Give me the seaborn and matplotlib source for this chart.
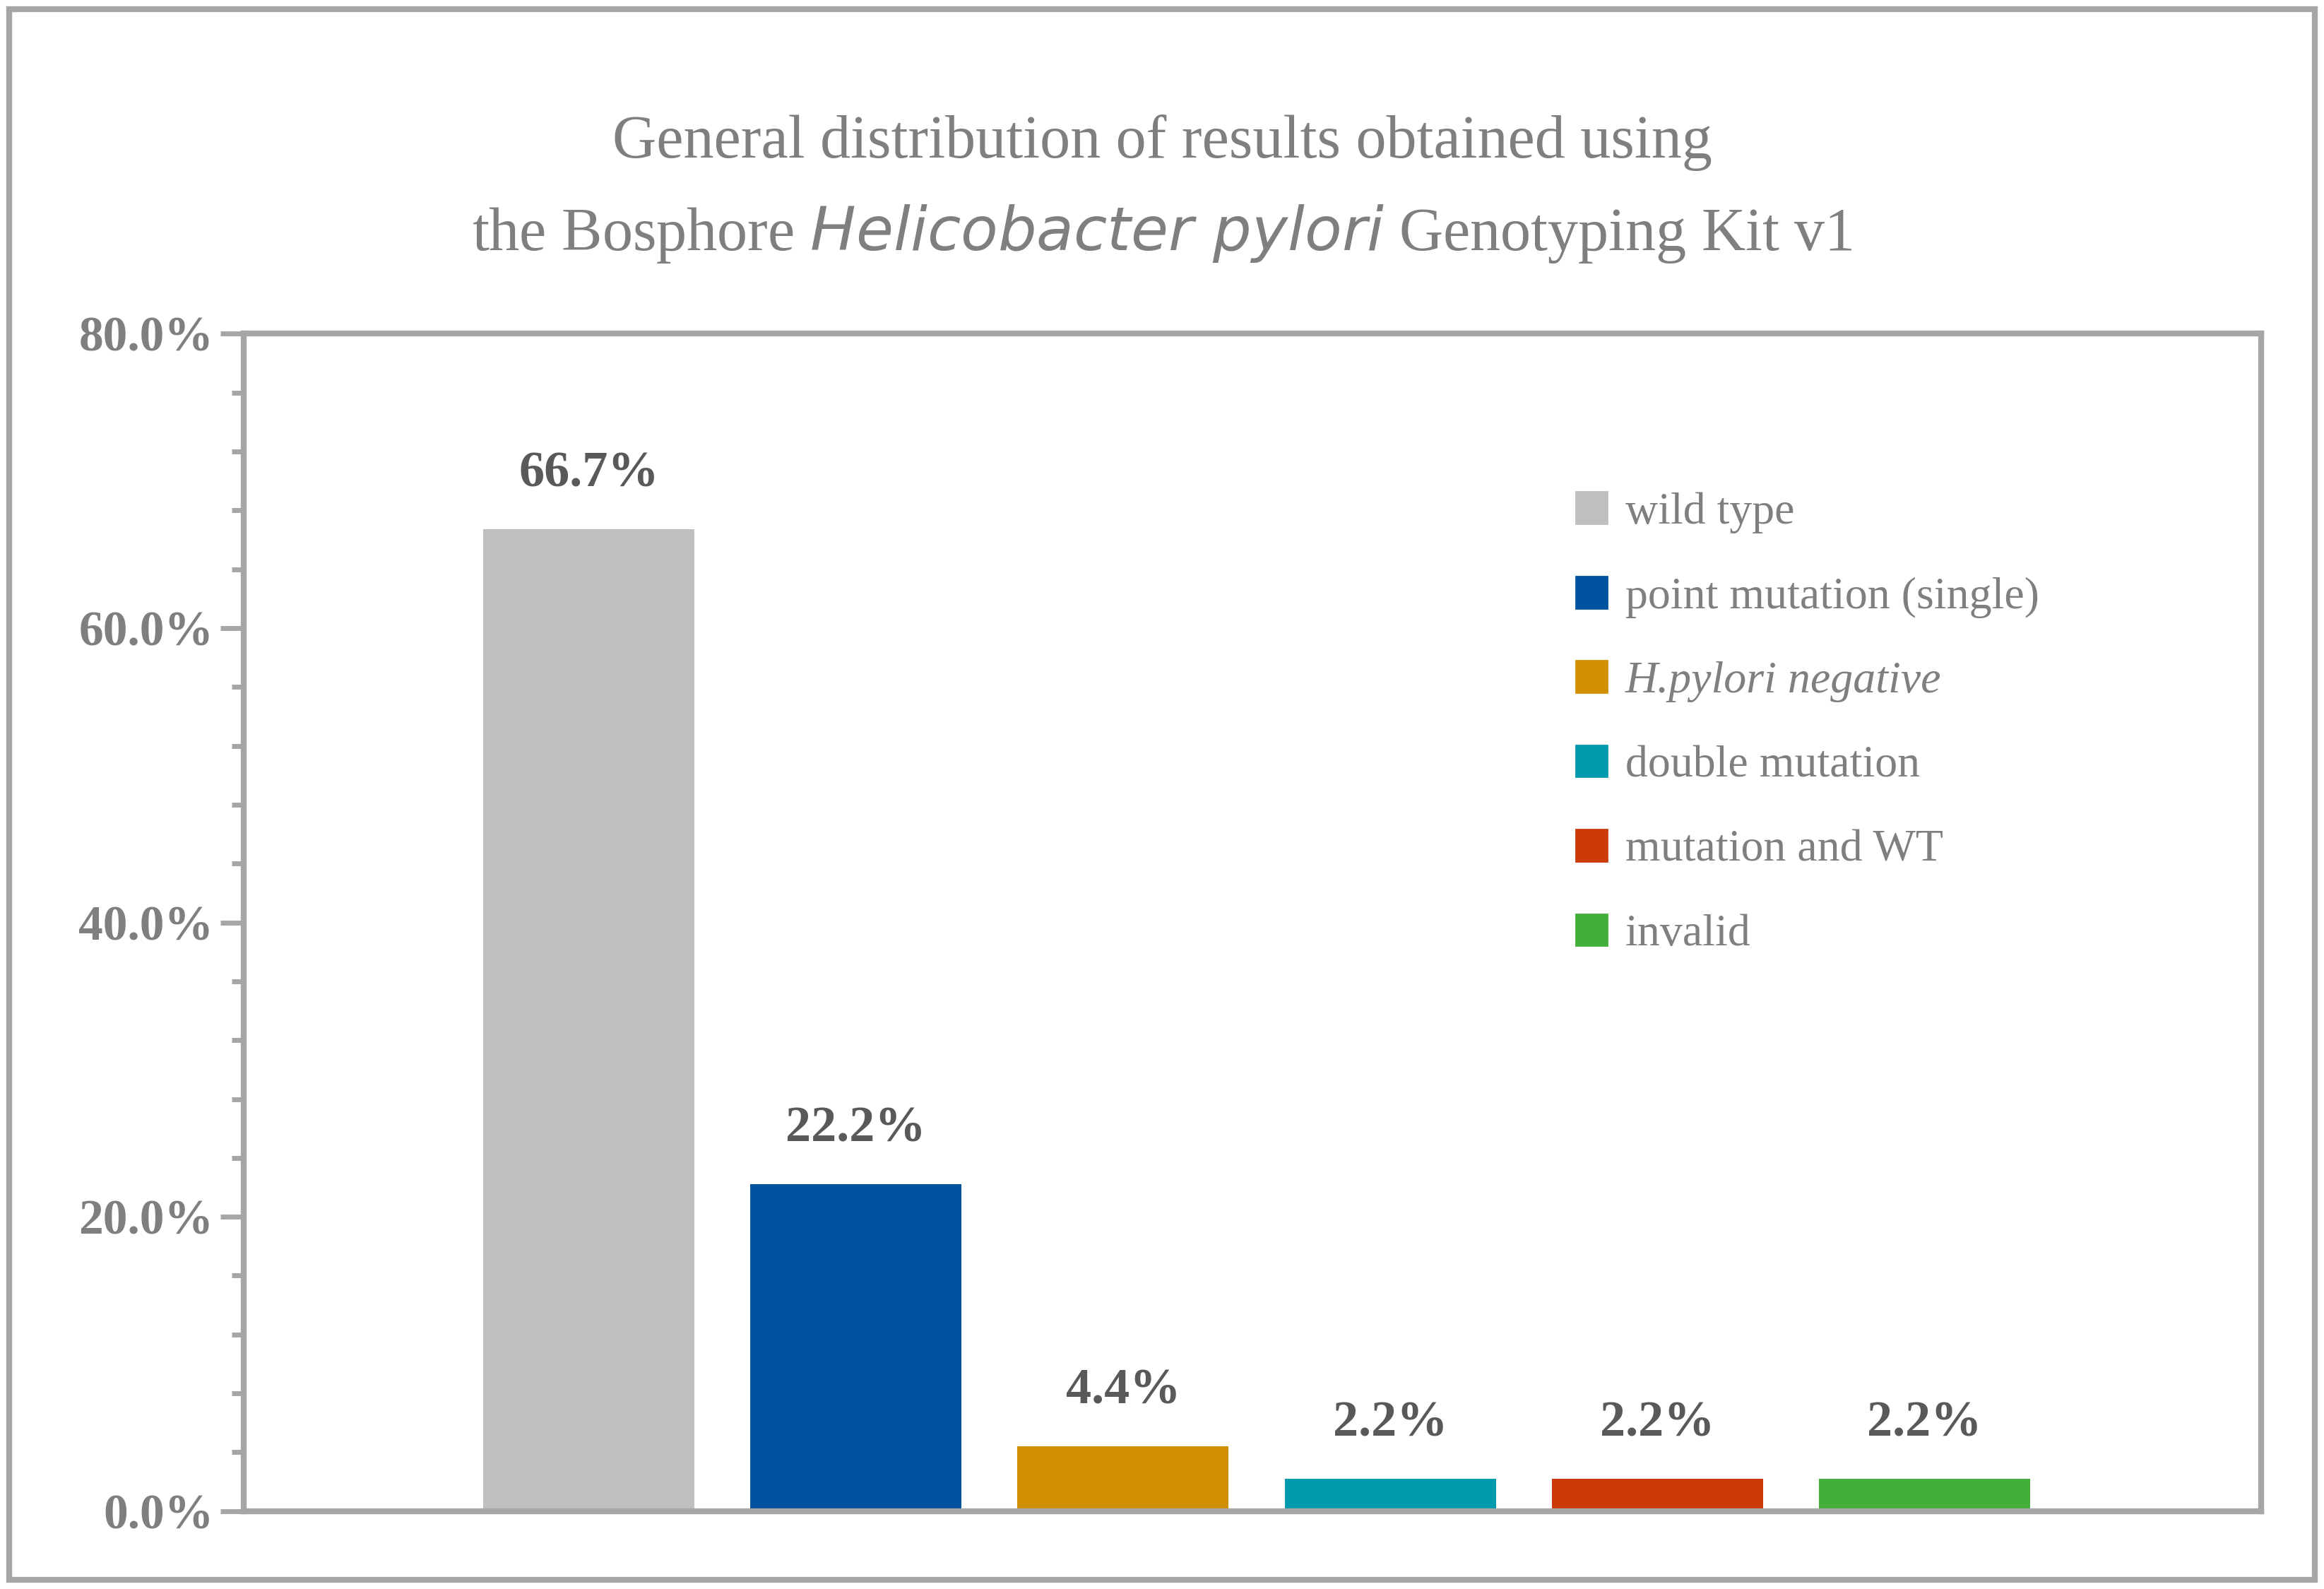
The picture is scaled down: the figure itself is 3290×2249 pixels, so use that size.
import matplotlib
matplotlib.use("Agg")
import matplotlib.pyplot as plt
import seaborn as sns
import pandas as pd
import numpy as np
from matplotlib.patches import Rectangle

categories = ["wild type", "point mutation (single)", "H.pylori negative",
              "double mutation", "mutation and WT", "invalid"]
values = [66.7, 22.2, 4.4, 2.2, 2.2, 2.2]
colors = ["#BFBFBF", "#00539F", "#D09000", "#009AAE", "#CC3A0A", "#44AE3A"]
yticks = [0, 20, 40, 60, 80]

df = pd.DataFrame({"cat": categories, "val": values})
plt.rcParams["font.family"] = "Liberation Serif"
gray = "#7F7F7F"

fig = plt.figure(figsize=(16.45, 11.245), dpi=200)
ax = fig.add_axes([0.105, 0.049, 0.868, 0.741])
sns.barplot(data=df, x="cat", y="val", hue="cat", palette=colors,
            order=categories, hue_order=categories, dodge=False,
            width=0.79, saturation=1, legend=False, ax=ax)
ax.set_xlim(-1.29, 6.26)
ax.set_ylim(0, 80)
ax.set_yticks(yticks)
ax.set_yticklabels([f"{t:.1f}%" for t in yticks], fontsize=25, fontweight="bold", color=gray)
ax.set_yticks(np.arange(0, 81, 4), minor=True)
ax.tick_params(axis="y", which="major", length=12, width=2.5, color="#A6A6A6")
ax.tick_params(axis="y", which="minor", length=6, width=2.5, color="#A6A6A6")
ax.set_xticks([])
ax.set_xlabel(""); ax.set_ylabel("")
for s in ax.spines.values():
    s.set_color("#A6A6A6"); s.set_linewidth(3)

for i, v in enumerate(values):
    ax.text(i, v + 2.2, f"{v:.1f}%", ha="center", va="bottom",
            fontsize=26, fontweight="bold", color="#595959")

handles = [Rectangle((0, 0), 1, 1, color=c) for c in colors]
leg = ax.legend(handles, categories, loc="upper left", bbox_to_anchor=(0.64, 0.9),
                frameon=False, fontsize=23, handlelength=0.7, handleheight=0.7,
                labelspacing=0.95, handletextpad=0.4)
for t in leg.get_texts():
    t.set_color(gray)
leg.get_texts()[2].set_fontstyle("italic")

fig.text(0.5, 0.91, "General distribution of results obtained using",
         ha="center", va="center", fontsize=31, color=gray)
fig.text(0.5, 0.853, "the Bosphore $\\it{Helicobacter\\ pylori}$ Genotyping Kit v1",
         ha="center", va="center", fontsize=31, color=gray)
plt.rcParams["mathtext.fontset"] = "custom"

fig.add_artist(Rectangle((0.004, 0.006), 0.992, 0.988, transform=fig.transFigure,
                         fill=False, edgecolor="#A6A6A6", linewidth=3))
fig.savefig("out.png", dpi=200)
